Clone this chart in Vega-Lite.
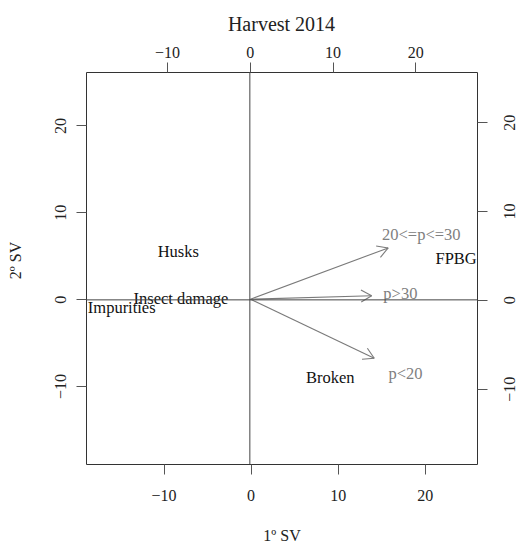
{
  "$schema": "https://vega.github.io/schema/vega-lite/v6.json",
  "width": 391,
  "height": 392,
  "autosize": {"type": "none"},
  "padding": {"left": 86, "top": 72, "right": 39, "bottom": 79},
  "background": "white",
  "title": {"text": "Harvest 2014", "font": "Liberation Serif", "fontSize": 20, "fontWeight": "normal", "color": "#222", "anchor": "middle", "offset": 9},
  "config": {
    "view": {"stroke": "#333", "strokeWidth": 1},
    "axis": {"labelFont": "Liberation Serif", "labelFontSize": 16, "labelColor": "#222", "titleFont": "Liberation Serif", "titleFontSize": 16, "titleFontWeight": "normal", "titleColor": "#222", "grid": false, "domain": false, "tickColor": "#555", "tickSize": 10, "labelFlush": false}
  },
  "datasets": {
    "obs": [
      {"label": "Husks", "x": -8.3, "y": 5.4},
      {"label": "Insect damage", "x": -8.0, "y": 0.0},
      {"label": "Impurities", "x": -14.8, "y": -1.0},
      {"label": "Broken", "x": 9.15, "y": -9.1},
      {"label": "FPBG", "x": 23.6, "y": 4.6}
    ],
    "vars": [
      {"label": "20<=p<=30", "x": 19.6, "y": 7.4},
      {"label": "p>30", "x": 17.2, "y": 0.6},
      {"label": "p<20", "x": 17.8, "y": -8.6}
    ],
    "segs": [
      {"part": "shaft", "x": 0, "y": 0, "x2": 15.8, "y2": 5.9},
      {"part": "head", "x": 15.8, "y": 5.9, "x2": 14.42, "y2": 6.13},
      {"part": "head", "x": 15.8, "y": 5.9, "x2": 14.91, "y2": 4.82},
      {"part": "shaft", "x": 0, "y": 0, "x2": 13.9, "y2": 0.4},
      {"part": "head", "x": 13.9, "y": 0.4, "x2": 12.67, "y2": 1.07},
      {"part": "head", "x": 13.9, "y": 0.4, "x2": 12.71, "y2": -0.33},
      {"part": "shaft", "x": 0, "y": 0, "x2": 14.2, "y2": -6.8},
      {"part": "head", "x": 14.2, "y": -6.8, "x2": 13.41, "y2": -5.64},
      {"part": "head", "x": 14.2, "y": -6.8, "x2": 12.8, "y2": -6.91}
    ]
  },
  "layer": [
    {
      "layer": [
        {
          "data": {"name": "segs"},
          "mark": {"type": "rule", "color": "#7a7a7a", "strokeWidth": 1.1},
          "encoding": {
            "x": {"field": "x", "type": "quantitative", "scale": {"domain": [-18.9, 26.0], "nice": false, "zero": false}, "axis": {"values": [-10, 0, 10, 20], "title": "1º SV", "titlePadding": 24, "labelPadding": 13}},
            "y": {"field": "y", "type": "quantitative", "scale": {"domain": [-18.97, 26.15], "nice": false, "zero": false}, "axis": {"values": [-10, 0, 10, 20], "title": "2º SV", "labelAngle": -90, "labelAlign": "center", "labelBaseline": "bottom", "labelPadding": 8, "titlePadding": 29, "titleY": 188}},
            "x2": {"field": "x2"},
            "y2": {"field": "y2"}
          }
        },
        {
          "data": {"name": "obs"},
          "mark": {"type": "text", "font": "Liberation Serif", "fontSize": 16.5, "color": "#111", "align": "center", "baseline": "middle"},
          "encoding": {
            "x": {"field": "x", "type": "quantitative", "scale": {"domain": [-18.9, 26.0], "nice": false, "zero": false}},
            "y": {"field": "y", "type": "quantitative", "scale": {"domain": [-18.97, 26.15], "nice": false, "zero": false}},
            "text": {"field": "label"}
          }
        },
        {
          "data": {"name": "vars"},
          "mark": {"type": "text", "font": "Liberation Serif", "fontSize": 16.5, "color": "#808080", "align": "center", "baseline": "middle"},
          "encoding": {
            "x": {"field": "x", "type": "quantitative", "scale": {"domain": [-18.9, 26.0], "nice": false, "zero": false}},
            "y": {"field": "y", "type": "quantitative", "scale": {"domain": [-18.97, 26.15], "nice": false, "zero": false}},
            "text": {"field": "label"}
          }
        }
      ]
    },
    {
      "data": {"values": [{"origin": 0}]},
      "layer": [
        {
          "mark": {"type": "rule", "color": "#444", "strokeWidth": 1},
          "encoding": {
            "y": {"field": "origin", "type": "quantitative", "scale": {"domain": [-18.49, 25.67], "nice": false, "zero": false}, "axis": {"orient": "right", "values": [-10, 0, 10, 20], "title": null, "labelAngle": -90, "labelAlign": "center", "labelBaseline": "top", "labelPadding": 14}}
          }
        },
        {
          "mark": {"type": "rule", "color": "#444", "strokeWidth": 1},
          "encoding": {
            "x": {"field": "origin", "type": "quantitative", "scale": {"domain": [-19.8, 27.45], "nice": false, "zero": false}, "axis": {"orient": "top", "values": [-10, 0, 10, 20], "title": null, "labelPadding": 2}}
          }
        }
      ]
    }
  ],
  "resolve": {"scale": {"x": "independent", "y": "independent"}}
}
